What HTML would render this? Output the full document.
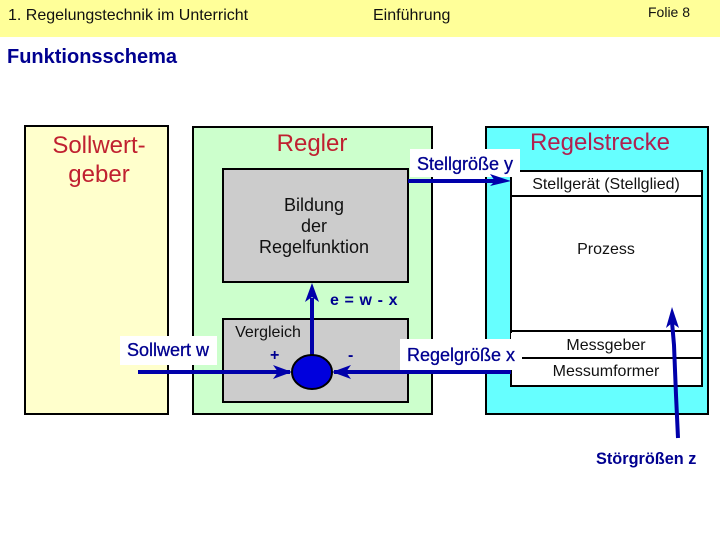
<!DOCTYPE html>
<html><head><meta charset="utf-8"><style>
html,body{margin:0;padding:0;background:#fff;width:720px;height:540px;overflow:hidden}
svg{display:block}
text{font-family:"Liberation Sans",sans-serif}
</style></head><body>
<svg width="720" height="540" viewBox="0 0 720 540" xmlns="http://www.w3.org/2000/svg">
<rect x="0" y="0" width="720" height="37" fill="#ffff99"/>
<text x="8" y="20" font-size="16" fill="#111">1. Regelungstechnik im Unterricht</text>
<text x="373" y="20" font-size="16" fill="#111">Einführung</text>
<text x="648" y="17" font-size="14" fill="#111">Folie 8</text>
<text x="7" y="63" font-size="20" font-weight="bold" fill="#000090">Funktionsschema</text>

<rect x="25" y="126" width="143" height="288" fill="#ffffcc" stroke="#000" stroke-width="2"/>
<rect x="193" y="127" width="239" height="287" fill="#ccffcc" stroke="#000" stroke-width="2"/>
<rect x="486" y="127" width="222" height="287" fill="#66ffff" stroke="#000" stroke-width="2"/>
<rect x="223" y="169" width="185" height="113" fill="#cccccc" stroke="#000" stroke-width="2"/>
<rect x="223" y="319" width="185" height="83" fill="#cccccc" stroke="#000" stroke-width="2"/>
<rect x="511" y="171" width="191" height="215" fill="#fff" stroke="#000" stroke-width="2"/>
<line x1="511" y1="196" x2="702" y2="196" stroke="#000" stroke-width="2"/>
<line x1="511" y1="331" x2="702" y2="331" stroke="#000" stroke-width="2"/>
<line x1="522" y1="358" x2="702" y2="358" stroke="#000" stroke-width="2"/>

<rect x="120" y="336" width="97" height="29" fill="#fff"/>
<rect x="410" y="149" width="110" height="28" fill="#fff"/>
<rect x="400" y="339" width="120" height="31" fill="#fff"/>
<rect x="511" y="333" width="11" height="37" fill="#fff"/>

<g font-size="24" fill="#c02030" text-anchor="middle">
<text x="99" y="153">Sollwert-</text>
<text x="99" y="182">geber</text>
<text x="312" y="151">Regler</text>
<text x="600" y="150" fill="#b02050">Regelstrecke</text>
</g>
<g font-size="18" fill="#111" text-anchor="middle">
<text x="314" y="211">Bildung</text>
<text x="314" y="232">der</text>
<text x="314" y="253">Regelfunktion</text>
</g>
<g font-size="16" fill="#111" text-anchor="middle">
<text x="606" y="189">Stellgerät (Stellglied)</text>
<text x="606" y="254">Prozess</text>
<text x="606" y="350">Messgeber</text>
<text x="606" y="376">Messumformer</text>
<text x="268" y="337">Vergleich</text>
</g>

<g stroke="#0000aa" stroke-width="4" fill="none">
<line x1="138" y1="372" x2="290" y2="372"/>
<line x1="334" y1="372" x2="511" y2="372"/>
<line x1="312" y1="356" x2="312" y2="298"/>
<line x1="408" y1="181" x2="495" y2="181"/>
<path d="M678 438 L676 395 L674 345 L672 322"/>
</g>
<g fill="#0000aa">
<polygon points="292,372 273,365 278,372 273,379"/>
<polygon points="332,372 351,365 346,372 351,379"/>
<polygon points="312,283 305,302 312,297 319,302"/>
<polygon points="511,181 490,174 495,181 490,186"/>
<polygon points="672,307 666,328 672,323 679,328"/>
</g>
<ellipse cx="312" cy="372" rx="20" ry="17" fill="#0000dd" stroke="#000" stroke-width="2"/>

<g font-weight="bold" fill="#000090">
<text x="127" y="356" font-size="18" font-weight="normal" stroke="#000090" stroke-width="0.3">Sollwert w</text>
<text x="417" y="170" font-size="18" font-weight="normal" stroke="#000090" stroke-width="0.3">Stellgröße y</text>
<text x="407" y="361" font-size="18" font-weight="normal" stroke="#000090" stroke-width="0.3">Regelgröße x</text>
<text x="596" y="464" font-size="16.3">Störgrößen z</text>
<text x="330" y="305" font-size="16" letter-spacing="0.6">e = w - x</text>
<text x="270" y="360" font-size="16">+</text>
<text x="348" y="360" font-size="16">-</text>
</g>
</svg>
</body></html>
